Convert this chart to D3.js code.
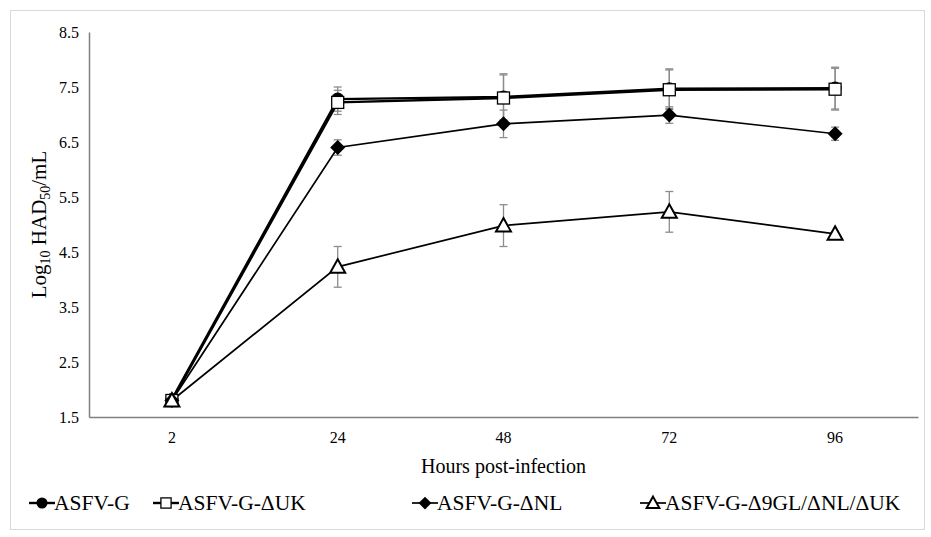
<!DOCTYPE html>
<html>
<head>
<meta charset="utf-8">
<script src="https://cdn.jsdelivr.net/npm/d3@7"></script>
<style>
  body { margin: 0; background: #fff; }
  svg text { font-family: "Liberation Serif", "Times New Roman", serif !important; fill: #000; }
</style>
</head>
<body>
<svg id="chart" width="931" height="537"></svg>
<script>
const categories = ["2", "24", "48", "72", "96"];
const yTicks = [1.5, 2.5, 3.5, 4.5, 5.5, 6.5, 7.5, 8.5];

const seriesNames = ["ASFV-G", "ASFV-G-ΔUK", "ASFV-G-ΔNL", "ASFV-G-Δ9GL/ΔNL/ΔUK"];
const valuesG     = [1.82, 7.28, 7.32, 7.47, 7.48];
const errorsG     = [0.03, 0.22, 0.42, 0.36, 0.38];
const valuesUK    = [1.80, 7.22, 7.30, 7.45, 7.46];
const errorsUK    = [0.03, 0.22, 0.42, 0.36, 0.38];
const valuesNL    = [1.80, 6.40, 6.83, 6.99, 6.65];
const errorsNL    = [0.03, 0.14, 0.25, 0.15, 0.12];
const valuesTri   = [1.80, 4.23, 4.98, 5.23, 4.83];
const errorsTri   = [0.03, 0.37, 0.38, 0.37, 0.03];

const series = [
  { name: seriesNames[0], values: valuesG,   errors: errorsG,   marker: "circle",   lw: 2.4 },
  { name: seriesNames[1], values: valuesUK,  errors: errorsUK,  marker: "square",   lw: 2.4 },
  { name: seriesNames[2], values: valuesNL,  errors: errorsNL,  marker: "diamond",  lw: 1.7 },
  { name: seriesNames[3], values: valuesTri, errors: errorsTri, marker: "triangle", lw: 1.7 }
];

const FONT = "Liberation Serif, Times New Roman, serif";
const svg = d3.select("#chart");
const mLeft = 89, mRight = 918, mTop = 32, mBottom = 417;

svg.append("rect").attr("x", 10.5).attr("y", 10.5).attr("width", 914).attr("height", 519)
  .attr("fill", "#fff").attr("stroke", "#d9d9d9").attr("stroke-width", 1);

const x = d3.scaleBand().domain(categories).range([mLeft, mRight]);
const y = d3.scaleLinear().domain([1.5, 8.5]).range([mBottom, mTop]);
const cx = c => x(c) + x.bandwidth() / 2;

// Axes
const yAxis = svg.append("g").attr("transform", `translate(${mLeft},0)`)
  .call(d3.axisLeft(y).tickValues(yTicks).tickFormat(d3.format(".1f")).tickSize(0).tickPadding(10))
  .attr("font-family", FONT);
yAxis.select(".domain").attr("stroke", "#7f7f7f").attr("stroke-width", 1.5);
yAxis.selectAll("text").attr("font-size", 16);

const xAxis = svg.append("g").attr("transform", `translate(0,${mBottom})`)
  .call(d3.axisBottom(x).tickSize(0).tickPadding(15))
  .attr("font-family", FONT);
xAxis.select(".domain").attr("stroke", "#7f7f7f").attr("stroke-width", 1.5);
xAxis.selectAll("text").attr("font-size", 16);

// Axis titles
svg.append("text").attr("x", (mLeft + mRight) / 2).attr("y", 473).attr("text-anchor", "middle")
  .attr("font-family", FONT).attr("font-size", 20).text("Hours post-infection");

const yt = svg.append("text").attr("transform", `translate(46,${(mTop + mBottom) / 2}) rotate(-90)`)
  .attr("text-anchor", "middle").attr("font-family", FONT).attr("font-size", 21);
yt.append("tspan").text("Log");
yt.append("tspan").attr("font-size", 14).attr("dy", 4).text("10");
yt.append("tspan").attr("dy", -4).text(" HAD");
yt.append("tspan").attr("font-size", 14).attr("dy", 4).text("50");
yt.append("tspan").attr("dy", -4).text("/mL");

// Error bars
const eb = svg.append("g").attr("stroke", "#8c8c8c").attr("stroke-width", 1.3).attr("fill", "none");
series.forEach(s => {
  s.values.forEach((v, i) => {
    const e = s.errors[i];
    if (e < 0.05) return;
    const px = cx(categories[i]);
    const y1 = y(v + e), y2 = y(v - e);
    eb.append("line").attr("x1", px).attr("x2", px).attr("y1", y1).attr("y2", y2);
    eb.append("line").attr("x1", px - 4).attr("x2", px + 4).attr("y1", y1).attr("y2", y1);
    eb.append("line").attr("x1", px - 4).attr("x2", px + 4).attr("y1", y2).attr("y2", y2);
  });
});

// Lines
const line = d3.line().x((d, i) => cx(categories[i])).y(d => y(d));
series.forEach(s => {
  svg.append("path").datum(s.values).attr("d", line)
    .attr("fill", "none").attr("stroke", "#000").attr("stroke-width", s.lw);
});

// Markers
function drawMarker(g, type, px, py, scale) {
  const k = scale || 1;
  if (type === "circle") {
    g.append("circle").attr("cx", px).attr("cy", py).attr("r", 6.5 * k).attr("fill", "#000");
  } else if (type === "square") {
    g.append("rect").attr("x", px - 6 * k).attr("y", py - 6 * k).attr("width", 12 * k).attr("height", 12 * k)
      .attr("fill", "#fff").attr("stroke", "#000").attr("stroke-width", 1.3);
  } else if (type === "diamond") {
    const r = 7.5 * k;
    g.append("path").attr("d", `M${px},${py - r}L${px + r},${py}L${px},${py + r}L${px - r},${py}Z`).attr("fill", "#000");
  } else if (type === "triangle") {
    const r = 7.5 * k;
    g.append("path").attr("d", `M${px},${py - r}L${px + r},${py + r * 0.8}L${px - r},${py + r * 0.8}Z`)
      .attr("fill", "#fff").attr("stroke", "#000").attr("stroke-width", 2);
  }
}
const mg = svg.append("g");
series.forEach(s => {
  s.values.forEach((v, i) => drawMarker(mg, s.marker, cx(categories[i]), y(v)));
});

// Legend
const legendX = [42, 166, 425, 653];
const legendY = 503;
series.forEach((s, i) => {
  const g = svg.append("g");
  const lx = legendX[i];
  g.append("line").attr("x1", lx - 13).attr("x2", lx + 13).attr("y1", legendY).attr("y2", legendY)
    .attr("stroke", "#000").attr("stroke-width", s.lw);
  drawMarker(g, s.marker, lx, legendY, 0.85);
  g.append("text").attr("x", lx + 12).attr("y", legendY + 7).attr("font-family", FONT)
    .attr("font-size", 21.5).text(s.name);
});
</script>
</body>
</html>
